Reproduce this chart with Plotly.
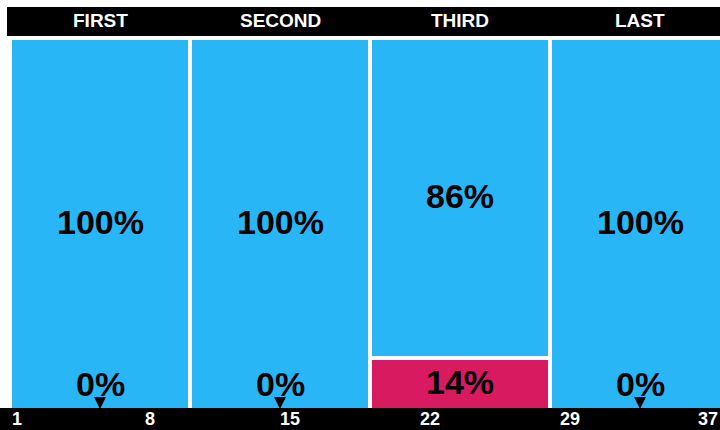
import plotly.graph_objects as go

# ---- data ----
categories = ["FIRST", "SECOND", "THIRD", "LAST"]
col_start = [1, 10, 19, 28]
col_width = [9, 9, 9, 9]
series_names = ["Pink", "Blue"]          # stacked bottom -> top
pink_values = [0, 0, 14, 0]
blue_values = [100, 100, 86, 100]
tick_values = [1, 8, 15, 22, 29, 37]
tick_labels = ["1", "8", "15", "22", "29", "37"]

X_MIN, X_MAX = 1, 36.5
BLUE = "#29B6F6"
PINK = "#D81B60"
FONT = "Liberation Sans, Arial, sans-serif"

centers = [s + w / 2 for s, w in zip(col_start, col_width)]

fig = go.Figure()
for name, vals, col in [(series_names[0], pink_values, PINK),
                        (series_names[1], blue_values, BLUE)]:
    fig.add_trace(go.Bar(
        x=centers, y=vals, width=col_width, name=name,
        marker=dict(color=col, line=dict(color="white", width=4)),
        hoverinfo="skip",
    ))

annotations = []
pct_font = dict(family=FONT, size=34, color="black", weight="bold")
# segment labels
for i, c in enumerate(centers):
    base = 0
    for vals in (pink_values, blue_values):
        v = vals[i]
        if v > 0:
            annotations.append(dict(
                x=c, y=base + v / 2, xref="x", yref="y", text=f"{v}%",
                showarrow=False, yanchor="middle", yshift=2, font=pct_font,
            ))
        else:
            annotations.append(dict(
                x=c, y=base, xref="x", yref="y", text=f"{v}%", yshift=26,
                showarrow=False, yanchor="middle", font=pct_font,
            ))
            annotations.append(dict(
                x=c, y=base, xref="x", yref="y", text="", showarrow=True,
                ax=0, ay=-12, arrowhead=2, arrowsize=1.6, arrowwidth=1.5,
                arrowcolor="black", standoff=1,
            ))
        base += v

# header labels
for c, cat in zip(centers, categories):
    annotations.append(dict(
        x=c, y=1.0457, xref="x", yref="paper", text=cat, showarrow=False,
        yanchor="middle",
        font=dict(family=FONT, size=19, color="white", weight="bold"),
    ))

# bottom tick labels
for k, (tv, tl) in enumerate(zip(tick_values, tick_labels)):
    if k == 0:
        anchor = "left"
    elif k == len(tick_values) - 1:
        anchor = "right"
    else:
        anchor = "center"
    annotations.append(dict(
        x=min(max(tv, X_MIN), X_MAX), y=-0.0245, xref="x", yref="paper",
        text=tl, showarrow=False, xanchor=anchor, yanchor="middle",
        font=dict(family=FONT, size=18, color="white", weight="bold"),
    ))

shapes = [
    dict(type="rect", xref="paper", yref="paper", x0=-0.00423, x1=1.01,
         y0=1.00538, y1=1.0833, fillcolor="black", line=dict(width=0), layer="above"),
    dict(type="rect", xref="paper", yref="paper", x0=-0.0141, x1=1.01,
         y0=0.00538, y1=-0.06, fillcolor="black", line=dict(width=0), layer="above"),
]

fig.update_layout(
    width=720, height=430,
    margin=dict(l=10, r=0, t=38, b=20, autoexpand=False),
    barmode="stack", bargap=0,
    showlegend=False,
    plot_bgcolor="white", paper_bgcolor="white",
    xaxis=dict(range=[X_MIN, X_MAX], showticklabels=False, showgrid=False,
               zeroline=False, ticks="", fixedrange=True),
    yaxis=dict(range=[0, 100], showticklabels=False, showgrid=False,
               zeroline=False, ticks="", fixedrange=True),
    annotations=annotations,
    shapes=shapes,
)

fig.write_html("out.html", config={"displayModeBar": False},
               post_script="document.body.style.margin='0';")
